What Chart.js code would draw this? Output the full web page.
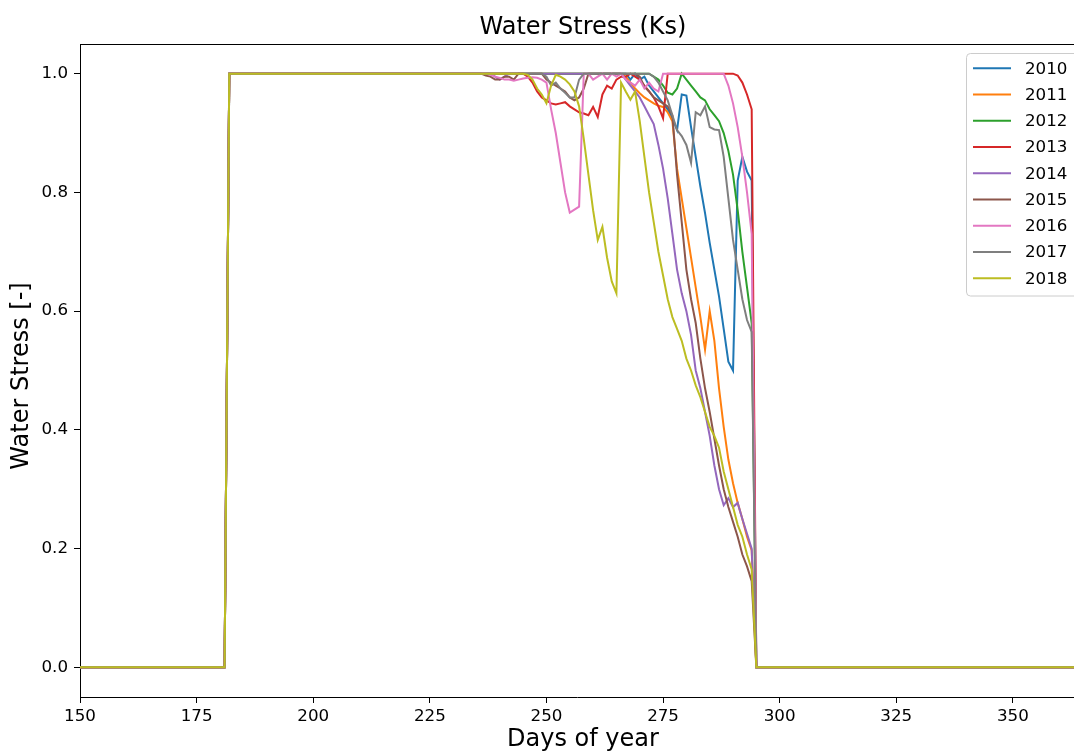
<!DOCTYPE html>
<html>
<head>
<meta charset="utf-8">
<script src="https://cdn.jsdelivr.net/npm/chart.js@4.4.1/dist/chart.umd.min.js"></script>
<style>
  html, body { margin: 0; padding: 0; background: #fff; }
  canvas { display: block; }
</style>
</head>
<body>
<canvas id="chart" width="1074" height="754" style="width:1074px;height:754px"></canvas>
<script>
// Water stress coefficient (Ks) per season, daily values
const years = ['2010', '2011', '2012', '2013', '2014', '2015', '2016', '2017', '2018'];
const colors = ['#1f77b4', '#ff7f0e', '#2ca02c', '#d62728', '#9467bd', '#8c564b', '#e377c2', '#7f7f7f', '#bcbd22'];

// shared part of every season: no crop before day 182, unstressed until day 235
const leadDays = [150, 181, 182, 235];
const leadVals = [0, 0, 1, 1];
// after harvest (day 295) the value is 0 again
const tailDays = [295, 365];
const tailVals = [0, 0];

// day-by-day values from day 236 to day 294
const firstDay = 236;
const ks2010 = [1, 1, 1, 1, 1, 1, 1, 1, 1, 1,
  1, 1, 1, 1, 1, 1, 1, 1, 1, 1,
  1, 1, 1, 1, 1, 1, 1, 1, 1, 1,
  1, 1, 0.99, 1, 0.99, 0.995, 0.98, 0.97, 0.96, 0.95,
  0.94, 0.925, 0.905, 0.965, 0.963, 0.91, 0.86, 0.81, 0.765, 0.715,
  0.67, 0.625, 0.57, 0.515, 0.5, 0.82, 0.86, 0.835, 0.82];
const ks2011 = [1, 1, 1, 1, 1, 1, 1, 1, 1, 1,
  1, 1, 1, 1, 1, 1, 1, 1, 1, 1,
  1, 1, 1, 1, 1, 1, 1, 1, 1, 1,
  1, 0.995, 0.985, 0.975, 0.967, 0.96, 0.955, 0.95, 0.946, 0.944,
  0.935, 0.92, 0.84, 0.79, 0.74, 0.69, 0.64, 0.59, 0.535, 0.6,
  0.55, 0.47, 0.405, 0.35, 0.31, 0.277, 0.25, 0.22, 0.197];
const ks2012 = [1, 1, 1, 1, 1, 1, 1, 1, 1, 1,
  1, 1, 1, 1, 1, 1, 1, 1, 1, 1,
  1, 1, 1, 1, 1, 1, 1, 1, 1, 1,
  1, 1, 1, 1, 1, 1, 1, 0.995, 0.99, 0.98,
  0.968, 0.965, 0.975, 1, 0.99, 0.98, 0.97, 0.96, 0.955, 0.94,
  0.93, 0.92, 0.9, 0.87, 0.83, 0.77, 0.7, 0.64, 0.58];
const ks2013 = [1, 1, 1, 1, 1, 1, 1, 1, 1, 1,
  0.995, 0.985, 0.97, 0.96, 0.955, 0.95, 0.948, 0.95, 0.952, 0.945,
  0.94, 0.935, 0.933, 0.93, 0.944, 0.927, 0.965, 0.98, 0.975, 0.99,
  0.995, 0.995, 1, 0.995, 0.99, 0.98, 0.97, 0.96, 0.945, 0.925,
  1, 1, 1, 1, 1, 1, 1, 1, 1, 1,
  1, 1, 1, 1, 1, 0.997, 0.985, 0.965, 0.94];
const ks2014 = [1, 1, 1, 0.995, 0.99, 0.995, 1, 1, 1, 1,
  1, 1, 1, 1, 1, 1, 1, 1, 1, 1,
  1, 1, 1, 1, 1, 1, 1, 1, 1, 1,
  1, 0.99, 0.98, 0.97, 0.96, 0.945, 0.93, 0.915, 0.88, 0.84,
  0.79, 0.73, 0.67, 0.63, 0.6, 0.56, 0.5, 0.47, 0.43, 0.39,
  0.34, 0.3, 0.273, 0.285, 0.27, 0.277, 0.25, 0.225, 0.2];
const ks2015 = [1, 0.997, 0.995, 0.99, 0.99, 0.995, 0.995, 0.99, 1, 1,
  1, 1, 1, 1, 0.99, 0.985, 0.98, 0.975, 0.97, 0.96,
  0.955, 0.96, 0.975, 1, 1, 1, 1, 1, 1, 1,
  1, 1, 1, 1, 0.995, 0.978, 0.97, 0.96, 0.955, 0.95,
  0.945, 0.93, 0.83, 0.75, 0.67, 0.62, 0.58, 0.52, 0.47, 0.43,
  0.385, 0.34, 0.3, 0.27, 0.245, 0.22, 0.19, 0.17, 0.145];
const ks2016 = [1, 1, 0.998, 0.995, 0.993, 0.99, 0.99, 0.988, 0.99, 0.992,
  0.993, 0.994, 0.993, 0.99, 0.985, 0.94, 0.9, 0.85, 0.8, 0.766,
  0.771, 0.776, 1, 1, 0.99, 0.995, 1, 0.99, 1, 0.995,
  1, 0.99, 0.985, 0.98, 0.99, 0.975, 0.985, 0.975, 0.97, 1,
  1, 1, 1, 1, 1, 1, 1, 1, 1, 1,
  1, 1, 1, 0.98, 0.95, 0.91, 0.86, 0.8, 0.73];
const ks2017 = [1, 1, 1, 1, 1, 1, 1, 1, 1, 1,
  1, 1, 1, 1, 0.995, 0.98, 0.985, 0.975, 0.968, 0.96,
  0.96, 0.99, 1, 1, 1, 1, 1, 1, 1, 1,
  1, 1, 1, 1, 1, 1, 1, 0.995, 0.985, 0.97,
  0.955, 0.93, 0.905, 0.895, 0.88, 0.85, 0.935, 0.93, 0.945, 0.91,
  0.906, 0.905, 0.86, 0.79, 0.72, 0.67, 0.62, 0.585, 0.565];
const ks2018 = [1, 1, 1, 1, 1, 1, 1, 1, 1, 1,
  0.998, 0.99, 0.975, 0.965, 0.95, 0.98, 0.998, 0.995, 0.99, 0.982,
  0.97, 0.945, 0.89, 0.83, 0.77, 0.72, 0.742, 0.69, 0.65, 0.63,
  0.985, 0.97, 0.956, 0.97, 0.92, 0.86, 0.8, 0.75, 0.7, 0.66,
  0.62, 0.59, 0.57, 0.55, 0.52, 0.5, 0.475, 0.455, 0.43, 0.405,
  0.39, 0.37, 0.33, 0.3, 0.27, 0.24, 0.22, 0.19, 0.165];

const seriesVals = [ks2010, ks2011, ks2012, ks2013, ks2014, ks2015, ks2016, ks2017, ks2018];
const xTicks = [150, 175, 200, 225, 250, 275, 300, 325, 350];
const yTicks = [0, 0.2, 0.4, 0.6, 0.8, 1.0];

const FONT = "'DejaVu Sans', sans-serif";

function buildPoints(vals) {
  const pts = leadDays.map((d, i) => ({ x: d, y: leadVals[i] }));
  vals.forEach((v, i) => pts.push({ x: firstDay + i, y: v }));
  tailDays.forEach((d, i) => pts.push({ x: d, y: tailVals[i] }));
  return pts;
}

const datasets = years.map((yr, i) => ({
  label: yr,
  data: buildPoints(seriesVals[i]),
  borderColor: colors[i],
  backgroundColor: colors[i],
  borderWidth: 2,
  pointRadius: 0,
  fill: false,
  order: years.length - i   // later years drawn on top
}));

// title, axis labels, top spine and legend
const decorations = {
  id: 'decorations',
  afterDraw(chart) {
    const c = chart.ctx;
    const a = chart.chartArea;
    c.save();
    // top spine
    c.strokeStyle = '#000';
    c.lineWidth = 1;
    c.beginPath();
    c.moveTo(a.left, a.top + 0.5);
    c.lineTo(a.right, a.top + 0.5);
    c.stroke();

    c.fillStyle = '#000';
    c.textAlign = 'center';
    c.textBaseline = 'middle';
    c.font = '24px ' + FONT;
    c.fillText('Water Stress (Ks)', 583, 28);
    c.fillText('Days of year', 583, 740);
    c.save();
    c.translate(22, 376);
    c.rotate(-Math.PI / 2);
    c.fillText('Water Stress [-]', 0, 0);
    c.restore();

    // legend
    const lx = 966.5, ly = 53.5, lw = 130, lh = 242.5, r = 4;
    c.beginPath();
    c.moveTo(lx + r, ly);
    c.lineTo(lx + lw - r, ly);
    c.arcTo(lx + lw, ly, lx + lw, ly + r, r);
    c.lineTo(lx + lw, ly + lh - r);
    c.arcTo(lx + lw, ly + lh, lx + lw - r, ly + lh, r);
    c.lineTo(lx + r, ly + lh);
    c.arcTo(lx, ly + lh, lx, ly + lh - r, r);
    c.lineTo(lx, ly + r);
    c.arcTo(lx, ly, lx + r, ly, r);
    c.closePath();
    c.fillStyle = 'rgba(255,255,255,0.8)';
    c.fill();
    c.strokeStyle = '#cccccc';
    c.lineWidth = 1;
    c.stroke();

    c.font = '16.7px ' + FONT;
    c.textAlign = 'left';
    chart.data.datasets.forEach((ds, i) => {
      const y = 68.3 + i * 26.25;
      c.strokeStyle = ds.borderColor;
      c.lineWidth = 2;
      c.beginPath();
      c.moveTo(973, y);
      c.lineTo(1011, y);
      c.stroke();
      c.fillStyle = '#000';
      c.fillText(ds.label, 1025, y + 1);
    });
    c.restore();
  }
};

new Chart(document.getElementById('chart'), {
  type: 'line',
  data: { datasets },
  options: {
    responsive: false,
    animation: false,
    layout: { padding: { top: 44, left: 0, right: 0, bottom: 0 } },
    plugins: {
      legend: { display: false },
      title: { display: false },
      tooltip: { enabled: false }
    },
    scales: {
      x: {
        type: 'linear',
        min: 150,
        max: 363.1,
        afterBuildTicks: s => { s.ticks = xTicks.map(v => ({ value: v })); },
        afterFit: s => { s.height = 57; },
        grid: { drawOnChartArea: false, drawTicks: true, tickLength: 6, color: '#000' },
        border: { display: true, color: '#000', width: 1 },
        ticks: { padding: 4, color: '#000', font: { family: FONT, size: 16.7 } }
      },
      y: {
        type: 'linear',
        min: -0.05,
        max: 1.05,
        afterBuildTicks: s => { s.ticks = yTicks.map(v => ({ value: v })); },
        afterFit: s => { s.width = 80; },
        grid: { drawOnChartArea: false, drawTicks: true, tickLength: 6, color: '#000' },
        border: { display: true, color: '#000', width: 1 },
        ticks: { padding: 6, color: '#000', font: { family: FONT, size: 16.7 }, callback: v => v.toFixed(1) }
      }
    }
  },
  plugins: [decorations]
});
</script>
</body>
</html>
